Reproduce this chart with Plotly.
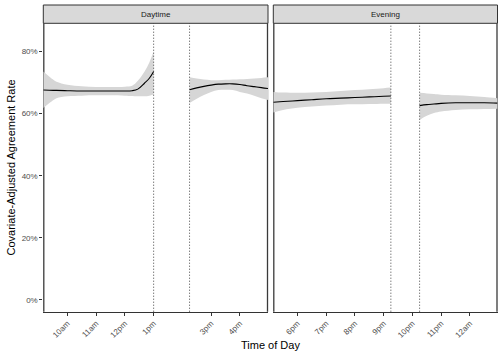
import plotly.graph_objects as go

W, H = 504, 360

# ---------------- data (percent) ----------------
panels = ["Daytime", "Evening"]

# Daytime, before break
day1_hour = [9.16, 9.5, 9.62, 10.0, 10.5, 11.0, 11.5, 12.0, 12.25, 12.45, 12.68, 12.85, 13.0]
day1_fit = [67.6, 67.5, 67.5, 67.4, 67.3, 67.3, 67.3, 67.3, 67.4, 67.9, 69.8, 71.4, 73.6]
day1_lo = [61.8, 64.3, 65.0, 65.6, 65.8, 65.9, 65.9, 65.8, 65.7, 65.6, 65.6, 65.8, 66.2]
day1_hi = [73.6, 71.0, 70.3, 69.3, 68.8, 68.6, 68.6, 68.7, 69.0, 70.6, 73.5, 76.5, 80.0]

# Daytime, after break
day2_hour = [14.25, 14.5, 14.75, 15.0, 15.25, 15.5, 15.75, 16.0, 16.25, 16.5, 16.75, 16.98]
day2_fit = [67.7, 68.3, 68.8, 69.2, 69.5, 69.6, 69.6, 69.4, 69.0, 68.7, 68.4, 68.1]
day2_lo = [63.4, 64.8, 66.0, 67.0, 67.6, 67.7, 67.6, 67.0, 66.5, 65.8, 65.0, 64.4]
day2_hi = [71.7, 71.3, 71.0, 70.8, 70.8, 70.9, 71.0, 71.1, 71.2, 71.3, 71.5, 71.7]

# Evening, before break
eve1_hour = [17.16, 17.5, 18.0, 18.5, 19.0, 19.5, 20.0, 20.5, 21.0, 21.25]
eve1_fit = [63.7, 63.9, 64.2, 64.5, 64.8, 65.0, 65.2, 65.4, 65.6, 65.7]
eve1_lo = [60.4, 61.2, 61.9, 62.3, 62.6, 62.9, 63.0, 63.1, 63.2, 63.2]
eve1_hi = [67.0, 66.8, 66.7, 66.8, 67.0, 67.3, 67.6, 67.9, 68.2, 68.4]

# Evening, after break
eve2_hour = [22.25, 22.5, 22.75, 23.0, 23.5, 24.0, 24.5, 24.96]
eve2_fit = [62.6, 62.9, 63.1, 63.3, 63.5, 63.5, 63.5, 63.4]
eve2_lo = [58.0, 59.3, 60.2, 60.7, 61.2, 61.4, 61.5, 61.6]
eve2_hi = [66.7, 66.5, 66.3, 66.1, 65.9, 65.7, 65.4, 65.0]

# break markers (hours)
day_breaks = [13.0, 14.25]
eve_breaks = [21.25, 22.25]

# tick labels
day_tickvals = [10, 11, 12, 13, 15, 16]
day_ticktext = ["10am", "11am", "12pm", "1pm", "3pm", "4pm"]
eve_tickvals = [18, 19, 20, 21, 22, 23, 24]
eve_ticktext = ["6pm", "7pm", "8pm", "9pm", "10pm", "11pm", "12am"]
y_tickvals = [0, 20, 40, 60, 80]
y_ticktext = ["0%", "20%", "40%", "60%", "80%"]

# ---------------- layout geometry (pixels) ----------------
L1, R1 = 43.3, 268.0
L2, R2 = 273.3, 497.5
PT, PB = 23.3, 311.7
ST = 5.0

def px(x):
    return x / W

def py(y):
    return 1 - y / H

RIBBON = "rgb(214,214,214)"
TICKC = "#4d4d4d"
FONT = "Liberation Sans, Arial, sans-serif"

fig = go.Figure()

def add_seg(xs, fit, lo, hi, xa, ya):
    fig.add_trace(go.Scatter(x=xs, y=lo, mode="lines", line=dict(width=0, shape="spline"),
                             xaxis=xa, yaxis=ya, showlegend=False, hoverinfo="skip"))
    fig.add_trace(go.Scatter(x=xs, y=hi, mode="lines", line=dict(width=0, shape="spline"),
                             fill="tonexty", fillcolor=RIBBON,
                             xaxis=xa, yaxis=ya, showlegend=False, hoverinfo="skip"))
    fig.add_trace(go.Scatter(x=xs, y=fit, mode="lines", line=dict(width=1.1, color="black", shape="spline"),
                             xaxis=xa, yaxis=ya, showlegend=False))

add_seg(day1_hour, day1_fit, day1_lo, day1_hi, "x", "y")
add_seg(day2_hour, day2_fit, day2_lo, day2_hi, "x", "y")
add_seg(eve1_hour, eve1_fit, eve1_lo, eve1_hi, "x2", "y2")
add_seg(eve2_hour, eve2_fit, eve2_lo, eve2_hi, "x2", "y2")

yr = [-3.77, 89.1]
xcommon = dict(showgrid=False, zeroline=False, showline=True, linecolor="#333333", linewidth=1,
               ticks="outside", ticklen=3, tickcolor="#333333", tickangle=-45,
               tickfont=dict(size=8, color=TICKC, family=FONT))
ycommon = dict(showgrid=False, zeroline=False, showline=False, range=yr,
               tickvals=y_tickvals, ticktext=y_ticktext)

fig.update_layout(
    width=W, height=H,
    margin=dict(l=0, r=0, t=0, b=0),
    paper_bgcolor="white", plot_bgcolor="white",
    font=dict(family=FONT),
    xaxis=dict(domain=[px(L1), px(R1)], range=[9.16, 16.98], tickvals=day_tickvals,
               ticktext=day_ticktext, anchor="y", **xcommon),
    xaxis2=dict(domain=[px(L2), px(R2)], range=[17.16, 24.96], tickvals=eve_tickvals,
                ticktext=eve_ticktext, anchor="y2", **xcommon),
    yaxis=dict(domain=[py(PB), py(PT)], anchor="x", ticks="outside", ticklen=3, tickcolor="#333333",
               tickfont=dict(size=8, color=TICKC, family=FONT), **ycommon),
    yaxis2=dict(domain=[py(PB), py(PT)], anchor="x2", showticklabels=False, ticks="", matches="y",
                **ycommon),
)

shapes = []
# panel edge lines (under the ribbons)
for xe in [L1 + 0.5, R1 - 0.5, L2 + 0.5, R2 - 0.5]:
    shapes.append(dict(type="line", xref="paper", yref="paper", x0=px(xe), x1=px(xe),
                       y0=py(PB), y1=py(PT), layer="below",
                       line=dict(color="#3a3a3a", width=1.3)))
# break markers
DOT = "1px,2px"
for b in day_breaks:
    shapes.append(dict(type="line", xref="x", yref="y domain", x0=b, x1=b, y0=0, y1=1,
                       line=dict(color="#444444", width=1, dash=DOT)))
for b in eve_breaks:
    shapes.append(dict(type="line", xref="x2", yref="y2 domain", x0=b, x1=b, y0=0, y1=1,
                       line=dict(color="#444444", width=1, dash=DOT)))
# strips
for (l, r) in [(L1, R1), (L2, R2)]:
    shapes.append(dict(type="rect", xref="paper", yref="paper", x0=px(l), x1=px(r),
                       y0=py(PT), y1=py(ST), fillcolor="#d9d9d9",
                       line=dict(color="#333333", width=1)))
fig.update_layout(shapes=shapes)

ann = []
for name, (l, r) in zip(panels, [(L1, R1), (L2, R2)]):
    ann.append(dict(text=name, xref="paper", yref="paper", x=px((l + r) / 2), y=py((ST + PT) / 2),
                    showarrow=False, font=dict(size=8, color="#1a1a1a", family=FONT),
                    xanchor="center", yanchor="middle"))
ann.append(dict(text="Covariate-Adjusted Agreement Rate", xref="paper", yref="paper",
                x=px(10), y=py((PT + PB) / 2), textangle=-90, showarrow=False,
                font=dict(size=11, color="black", family=FONT), xanchor="center", yanchor="middle"))
ann.append(dict(text="Time of Day", xref="paper", yref="paper",
                x=px((L1 + R2) / 2), y=py(345), showarrow=False,
                font=dict(size=11, color="black", family=FONT), xanchor="center", yanchor="middle"))
fig.update_layout(annotations=ann)

fig.write_html("out.html", config={"displayModeBar": False},
               post_script="document.body.style.margin='0';document.body.style.overflow='hidden';")
